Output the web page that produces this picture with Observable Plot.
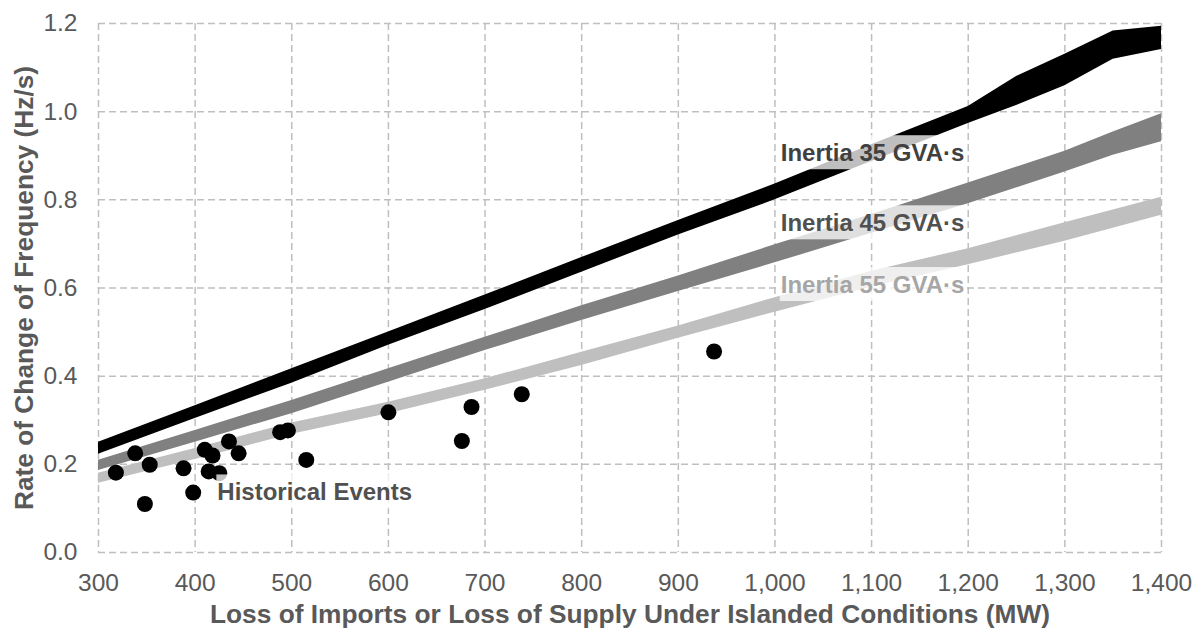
<!DOCTYPE html>
<html>
<head>
<meta charset="utf-8">
<script src="https://cdn.jsdelivr.net/npm/d3@7"></script>
<script src="https://cdn.jsdelivr.net/npm/@observablehq/plot@0.6"></script>
<style>
  html, body { margin: 0; padding: 0; background: #ffffff; }
  #chart svg { font-family: Arial, "Liberation Sans", sans-serif; }
</style>
</head>
<body>
<div id="chart"></div>
<script>
// ---- Data ----
const xTicks = [300, 400, 500, 600, 700, 800, 900, 1000, 1100, 1200, 1300, 1400];
const yTicks = [0, 0.2, 0.4, 0.6, 0.8, 1.0, 1.2];

// Inertia 35 GVA·s band
const band35MW = [300, 400, 500, 600, 700, 800, 900, 1000, 1100, 1200, 1250, 1300, 1350, 1400];
const band35Lo = [0.223, 0.304, 0.384, 0.470, 0.551, 0.636, 0.720, 0.800, 0.887, 0.973, 1.014, 1.059, 1.119, 1.141];
const band35Hi = [0.250, 0.333, 0.417, 0.500, 0.584, 0.669, 0.753, 0.836, 0.925, 1.012, 1.080, 1.130, 1.183, 1.194];

// Inertia 45 GVA·s band
const band45MW = [300, 400, 500, 600, 700, 800, 900, 1000, 1100, 1200, 1300, 1350, 1400];
const band45Lo = [0.186, 0.250, 0.315, 0.386, 0.458, 0.526, 0.592, 0.657, 0.724, 0.791, 0.863, 0.901, 0.932];
const band45Hi = [0.209, 0.277, 0.345, 0.417, 0.488, 0.560, 0.627, 0.698, 0.767, 0.838, 0.910, 0.954, 0.995];

// Inertia 55 GVA·s band
const band55MW = [300, 400, 500, 600, 700, 800, 900, 1000, 1100, 1200, 1300, 1400];
const band55Lo = [0.157, 0.211, 0.268, 0.315, 0.368, 0.424, 0.486, 0.545, 0.602, 0.653, 0.706, 0.765];
const band55Hi = [0.180, 0.236, 0.294, 0.341, 0.394, 0.454, 0.514, 0.578, 0.638, 0.689, 0.748, 0.806];

// Historical events
const eventMW    = [318, 338, 348, 353, 388, 398, 410, 414, 418, 425, 435, 445, 488, 496, 515, 600, 676, 686, 738, 937];
const eventRocof = [0.181, 0.225, 0.110, 0.199, 0.191, 0.136, 0.233, 0.184, 0.220, 0.180, 0.252, 0.225, 0.273, 0.277, 0.210, 0.318, 0.253, 0.330, 0.359, 0.456];

// Annotations
const labelText  = ["Inertia 35 GVA·s", "Inertia 45 GVA·s", "Inertia 55 GVA·s", "Historical Events"];
const labelMW    = [1006, 1006, 1006, 423];
const labelRocof = [0.905, 0.746, 0.606, 0.1355];
const labelColor = ["#404040", "#505050", "#a6a6a6", "#505050"];

const xTitle = "Loss of Imports or Loss of Supply Under Islanded Conditions (MW)";
const yTitle = "Rate of Change of Frequency (Hz/s)";

// ---- Tables built from the arrays ----
const mkBand = (xs, lo, hi) => xs.map((x, i) => ({x, lo: lo[i], hi: hi[i]}));
const band35 = mkBand(band35MW, band35Lo, band35Hi);
const band45 = mkBand(band45MW, band45Lo, band45Hi);
const band55 = mkBand(band55MW, band55Lo, band55Hi);
const events = eventMW.map((x, i) => ({x, y: eventRocof[i]}));
const labels = labelText.map((t, i) => ({t, x: labelMW[i], y: labelRocof[i], c: labelColor[i]}));

const gridStyle = {stroke: "#bfbfbf", strokeOpacity: 1, strokeWidth: 1.5, strokeDasharray: "7,4"};

const chart = Plot.plot({
  width: 1193,
  height: 631,
  marginLeft: 98,
  marginRight: 32,
  marginTop: 23,
  marginBottom: 79,
  style: {fontFamily: 'Arial, "Liberation Sans", sans-serif', fontSize: "24px", color: "#595959", background: "#ffffff", overflow: "visible"},
  x: {domain: [300, 1400]},
  y: {domain: [0, 1.2]},
  marks: [
    Plot.gridX(xTicks, gridStyle),
    Plot.gridY(yTicks, gridStyle),
    Plot.areaY(band55, {x: "x", y1: "lo", y2: "hi", fill: "#bfbfbf"}),
    Plot.areaY(band45, {x: "x", y1: "lo", y2: "hi", fill: "#808080"}),
    Plot.areaY(band35, {x: "x", y1: "lo", y2: "hi", fill: "#000000"}),
    Plot.dot(events, {x: "x", y: "y", r: 8, fill: "#000000", stroke: "none"}),
    Plot.text(labels, {x: "x", y: "y", text: "t", fill: "c", textAnchor: "start", lineAnchor: "middle",
                       fontWeight: "bold", fontSize: 24, className: "lbl"}),
    Plot.axisX(xTicks, {tickSize: 0, tickPadding: 21, tickFormat: d3.format(","), fontSize: 24.5, label: null}),
    Plot.axisY(yTicks, {tickSize: 0, tickPadding: 21, tickFormat: d3.format(".1f"), fontSize: 24.5, label: null}),
    Plot.text([xTitle], {frameAnchor: "bottom", dy: 70, textAnchor: "middle", lineAnchor: "bottom", fontWeight: "bold", fontSize: 26.3, fill: "#595959"}),
    Plot.text([yTitle], {frameAnchor: "left", dx: -66, rotate: -90, textAnchor: "middle", lineAnchor: "bottom", fontWeight: "bold", fontSize: 26.3, fill: "#595959"})
  ]
});

document.getElementById("chart").appendChild(chart);

// semi-transparent white boxes behind the annotation texts
chart.querySelectorAll("g.lbl text").forEach(t => {
  const b = t.getBBox();
  const r = document.createElementNS("http://www.w3.org/2000/svg", "rect");
  r.setAttribute("x", b.x - 1);
  r.setAttribute("y", b.y - 4);
  r.setAttribute("width", b.width + 2);
  r.setAttribute("height", b.height + 7);
  r.setAttribute("fill", "#ffffff");
  r.setAttribute("fill-opacity", "0.75");
  r.setAttribute("stroke", "none");
  const tr = t.getAttribute("transform");
  if (tr) r.setAttribute("transform", tr);
  t.parentNode.insertBefore(r, t);
});
</script>
</body>
</html>
